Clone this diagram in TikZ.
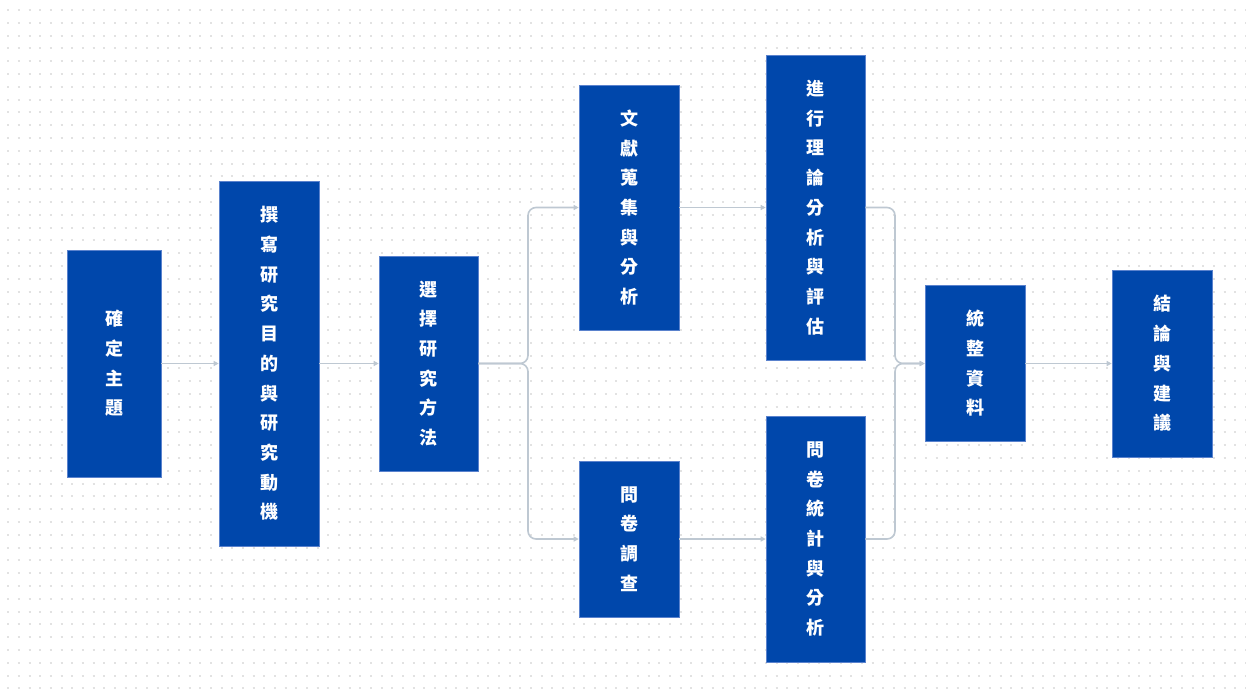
\documentclass[tikz,border=0pt]{standalone}
\usepackage{fontspec}
\newfontfamily\cjk{Noto Sans CJK TC}
\usetikzlibrary{arrows.meta}
\definecolor{boxblue}{RGB}{0,71,171}
\definecolor{boxedge}{RGB}{90,130,205}
\definecolor{conngray}{RGB}{190,200,210}
\definecolor{dotgray}{RGB}{226,226,226}
\tikzset{
  stepbox/.style={rectangle, fill=boxblue, draw=boxedge, line width=0.6pt, inner sep=0pt,
    text=white, align=center, font=\cjk\bfseries\fontsize{18}{29.7}\selectfont},
  conn/.style={draw=conngray, line width=1.6pt, rounded corners=8pt,
    -{Triangle[length=5pt,width=5pt]}},
  dotline/.style={draw=dotgray, line width=2pt, dash pattern=on 2pt off 8.67pt}
}
\begin{document}
\begin{tikzpicture}[x=1pt,y=-1pt]
\useasboundingbox (0,0) rectangle (1246,697);
\fill[white] (0,0) rectangle (1246,697);
\foreach \j in {0,...,53}{
  \draw[dotline] (7.3,{10+\j*12.8}) -- (1246,{10+\j*12.8});
}
\node[stepbox, minimum width=94pt, minimum height=227pt] (b1) at (114,363.5) {確\\定\\主\\題};
\node[stepbox, minimum width=100pt, minimum height=365pt] (b2) at (269,363.5) {撰\\寫\\研\\究\\目\\的\\與\\研\\究\\動\\機};
\node[stepbox, minimum width=99pt, minimum height=215pt] (b3) at (428.5,363.5) {選\\擇\\研\\究\\方\\法};
\node[stepbox, minimum width=100pt, minimum height=245pt] (b4) at (629,207.5) {文\\獻\\蒐\\集\\與\\分\\析};
\node[stepbox, minimum width=100pt, minimum height=156pt] (b5) at (629,539) {問\\卷\\調\\查};
\node[stepbox, minimum width=99pt, minimum height=305pt] (b6) at (815.5,207.5) {進\\行\\理\\論\\分\\析\\與\\評\\估};
\node[stepbox, minimum width=99pt, minimum height=246pt] (b7) at (815.5,539) {問\\卷\\統\\計\\與\\分\\析};
\node[stepbox, minimum width=100pt, minimum height=156pt] (b8) at (975,363.5) {統\\整\\資\\料};
\node[stepbox, minimum width=100pt, minimum height=187pt] (b9) at (1162,363.5) {結\\論\\與\\建\\議};
\coordinate (s1) at (528,363.5);
\coordinate (m1) at (895,363.5);
\draw[conn] (b1.east) -- (b2.west);
\draw[conn] (b2.east) -- (b3.west);
\draw[conn] (b3.east) -- (s1) |- (b4.west);
\draw[conn] (b3.east) -- (s1) |- (b5.west);
\draw[conn] (b4.east) -- (b6.west);
\draw[conn] (b5.east) -- (b7.west);
\draw[conn] (b6.east) -| (m1) -- (b8.west);
\draw[conn] (b7.east) -| (m1) -- (b8.west);
\draw[conn] (b8.east) -- (b9.west);
\end{tikzpicture}
\end{document}
